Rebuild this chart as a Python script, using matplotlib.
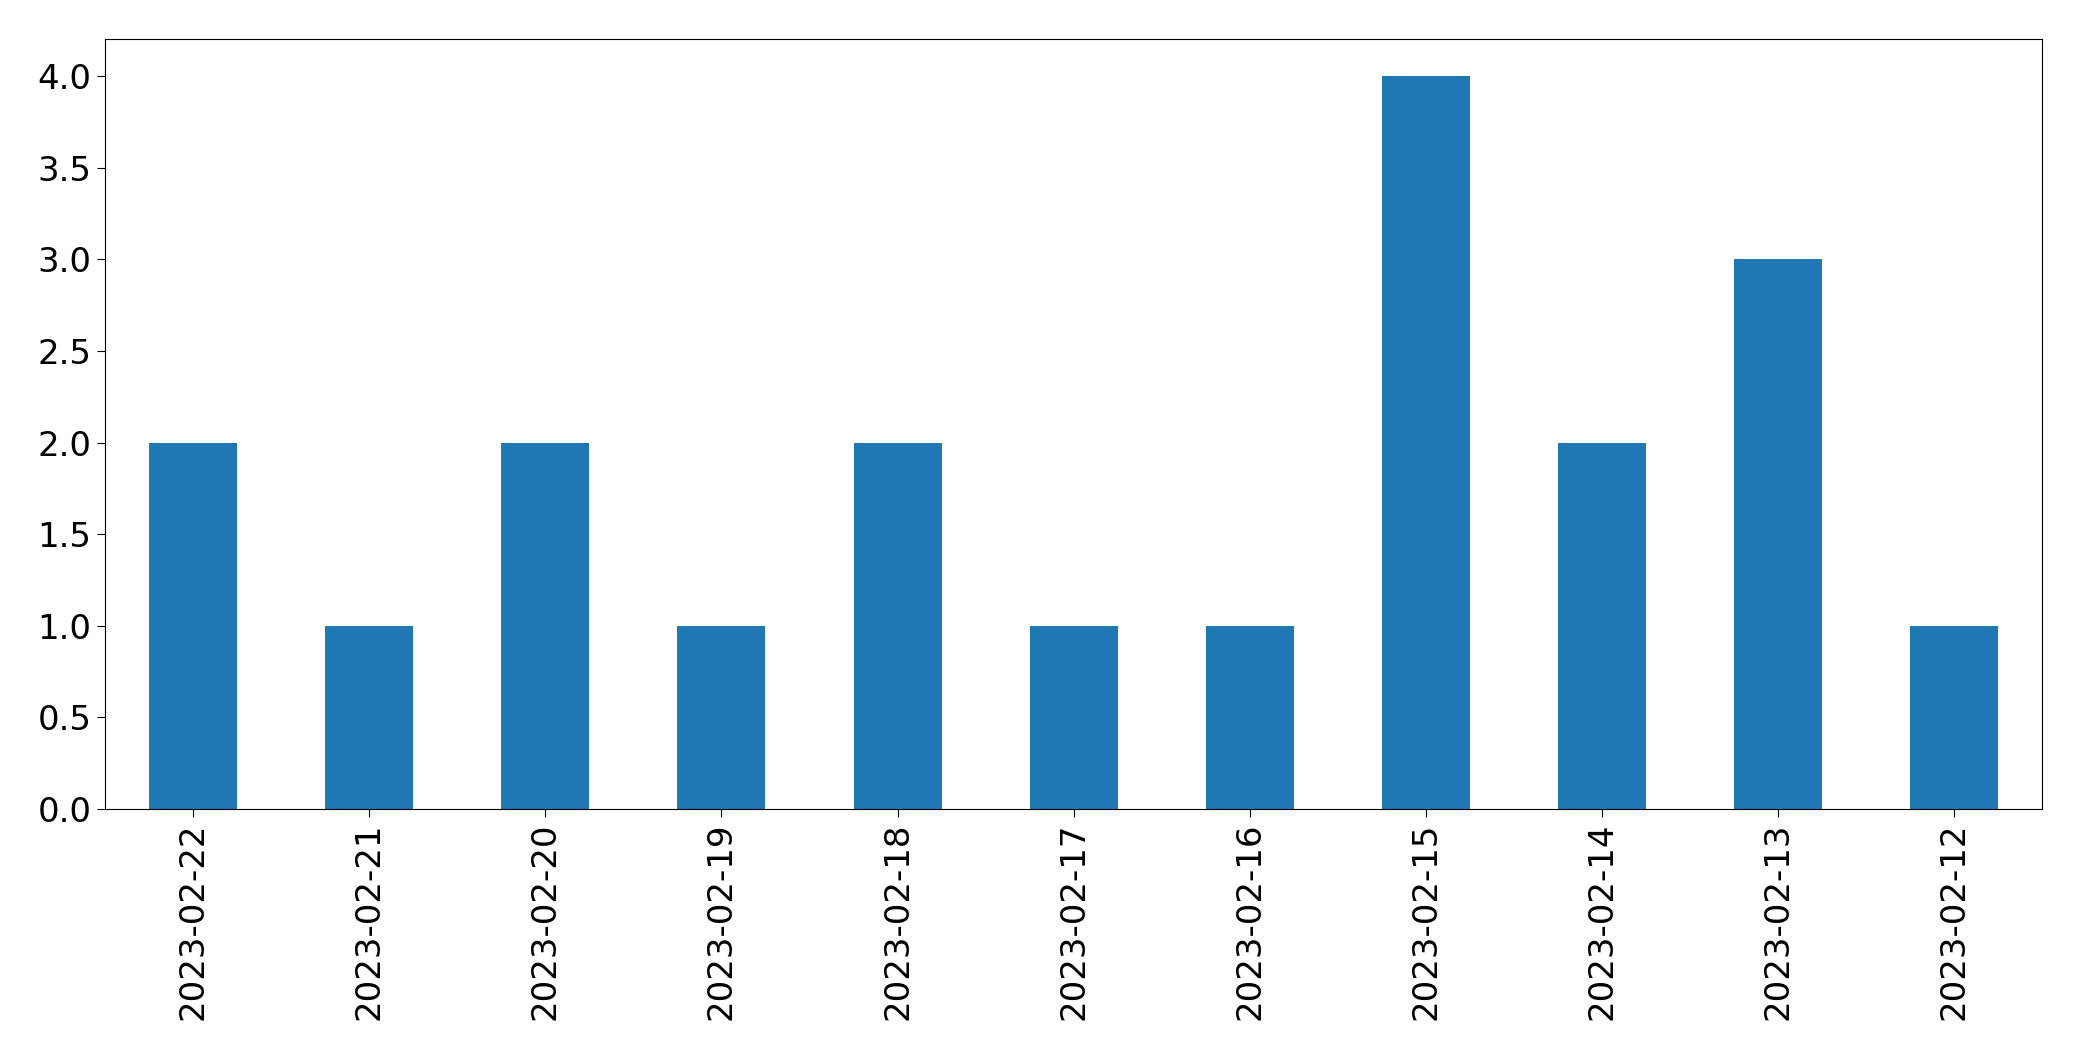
import matplotlib
matplotlib.use("Agg")
import matplotlib.pyplot as plt

# Data
dates = ["2023-02-22", "2023-02-21", "2023-02-20", "2023-02-19", "2023-02-18",
         "2023-02-17", "2023-02-16", "2023-02-15", "2023-02-14", "2023-02-13",
         "2023-02-12"]
counts = [2, 1, 2, 1, 2, 1, 1, 4, 2, 3, 1]

# Plot
fig = plt.figure(figsize=(20.82, 10.61), dpi=100)
ax = fig.add_axes([0.0504, 0.2375, 0.9306, 0.7253])
positions = list(range(len(dates)))
ax.bar(positions, counts, width=0.5, color="#1f77b4")
ax.set_xlim(-0.5, len(dates) - 0.5)
ax.set_ylim(0, 4.2)
ax.set_xticks(positions)
ax.set_xticklabels(dates, rotation=90)
ax.set_yticks([0.0, 0.5, 1.0, 1.5, 2.0, 2.5, 3.0, 3.5, 4.0])
ax.set_yticklabels(["0.0", "0.5", "1.0", "1.5", "2.0", "2.5", "3.0", "3.5", "4.0"])
ax.tick_params(labelsize=24.5, length=6)

fig.savefig("out.png", dpi=100)
